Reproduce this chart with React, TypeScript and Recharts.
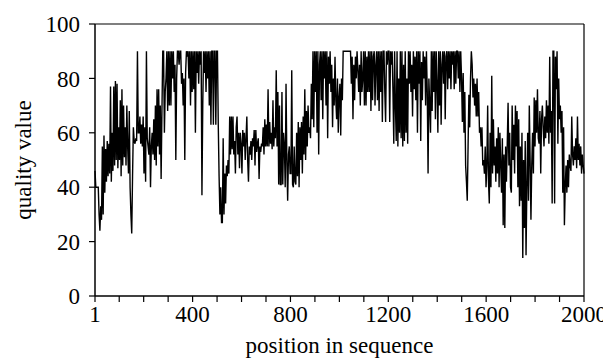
import React from "react";
import {
  LineChart,
  Line,
  XAxis,
  YAxis,
  ReferenceLine,
  Label,
} from "recharts";

// quality value, roughly 3.3 positions per value
const q0001_0400 = [
  46, 40, 40, 40, 40, 30, 24, 33, 28, 55, 30, 59,
  38, 54, 42, 57, 44, 56, 45, 77, 42, 60, 46, 77,
  48, 79, 50, 78, 47, 62, 50, 72, 44, 76, 48, 70,
  51, 62, 48, 70, 55, 45, 68, 40, 30, 23, 44, 62,
  57, 56, 58, 57, 90, 60, 60, 66, 56, 63, 55, 66,
  45, 62, 42, 90, 58, 55, 52, 62, 40, 55, 60, 52,
  65, 50, 70, 48, 76, 55, 76, 52, 70, 43, 68, 90,
  90, 60, 75, 80, 90, 68, 90, 70, 90, 70, 90, 80,
  90, 75, 85, 50, 80, 90, 90, 85, 90, 90, 78, 82,
  70, 80, 50, 82, 90, 88, 90, 80, 90, 70, 90, 75,
];

const q0400_0800 = [
  90, 76, 90, 60, 90, 82, 90, 78, 90, 85, 90, 37,
  70, 90, 82, 90, 75, 90, 80, 90, 70, 90, 63, 90,
  90, 63, 90, 90, 63, 90, 90, 63, 44, 30, 40, 27,
  27, 58, 30, 45, 34, 48, 44, 50, 45, 66, 52, 66,
  54, 66, 52, 57, 45, 62, 66, 52, 60, 47, 60, 56,
  45, 61, 55, 60, 50, 58, 66, 50, 42, 55, 52, 57,
  50, 58, 55, 61, 48, 61, 53, 56, 58, 43, 55, 53,
  56, 55, 62, 52, 65, 55, 63, 55, 76, 55, 64, 56,
  60, 54, 72, 55, 62, 58, 83, 55, 75, 41, 70, 41,
  41, 75, 41, 60, 55, 40, 78, 50, 35, 52, 55, 45,
];

const q0800_1200 = [
  45, 83, 41, 40, 55, 42, 41, 60, 44, 64, 40, 62,
  50, 64, 45, 66, 52, 76, 50, 68, 55, 70, 60, 62,
  58, 78, 65, 90, 62, 90, 75, 90, 60, 90, 52, 85,
  90, 72, 90, 65, 90, 80, 90, 70, 90, 58, 88, 78,
  90, 75, 85, 62, 80, 70, 88, 72, 65, 80, 60, 73,
  78, 59, 80, 72, 90, 90, 90, 90, 90, 90, 90, 90,
  90, 90, 78, 88, 65, 85, 72, 88, 80, 90, 83, 75,
  85, 70, 90, 75, 80, 90, 70, 90, 70, 88, 75, 90,
  75, 90, 68, 90, 72, 88, 90, 70, 85, 90, 72, 90,
  68, 90, 75, 90, 64, 90, 90, 75, 64, 90, 85, 90,
];

const q1200_1600 = [
  90, 64, 90, 85, 90, 75, 56, 90, 70, 57, 90, 55,
  80, 60, 90, 58, 90, 55, 85, 57, 90, 60, 80, 56,
  90, 78, 90, 75, 85, 66, 90, 76, 88, 72, 90, 60,
  90, 78, 90, 57, 86, 72, 90, 80, 88, 70, 90, 75,
  45, 80, 70, 60, 90, 68, 90, 75, 90, 65, 90, 78,
  60, 90, 70, 90, 63, 85, 90, 78, 90, 65, 88, 90,
  76, 90, 80, 90, 76, 90, 85, 90, 76, 90, 78, 90,
  90, 80, 90, 75, 90, 80, 64, 82, 60, 75, 48, 42,
  35, 55, 74, 62, 80, 90, 85, 73, 80, 70, 78, 66,
  80, 66, 75, 60, 62, 55, 62, 48, 50, 45, 55, 40,
];

const q1600_2000 = [
  48, 70, 42, 34, 60, 40, 81, 45, 65, 48, 55, 42,
  58, 45, 62, 40, 60, 48, 38, 58, 26, 52, 25, 55,
  42, 56, 71, 48, 60, 40, 38, 70, 50, 63, 45, 70,
  55, 68, 40, 65, 33, 55, 35, 60, 14, 50, 25, 57,
  15, 40, 60, 35, 70, 50, 28, 48, 60, 45, 73, 55,
  72, 60, 76, 58, 56, 68, 45, 65, 70, 62, 55, 66,
  58, 72, 60, 70, 56, 88, 60, 68, 34, 90, 90, 34,
  88, 76, 90, 56, 80, 65, 70, 60, 68, 38, 62, 26,
  40, 48, 38, 50, 40, 52, 48, 46, 66, 52, 48, 55,
  50, 58, 47, 66, 50, 56, 48, 55, 45, 52, 48, 45,
];

const quality = [
  ...q0001_0400,
  ...q0400_0800,
  ...q0800_1200,
  ...q1200_1600,
  ...q1600_2000,
];

const xTicks = [
  1, 100, 200, 300, 400, 500, 600, 700, 800, 900, 1000,
  1100, 1200, 1300, 1400, 1500, 1600, 1700, 1800, 1900, 2000,
];
const xLabels = [1, 400, 800, 1200, 1600, 2000];
const yTicks = [0, 20, 40, 60, 80, 100];

const data = quality.map((q, i) => ({
  pos: 1 + (i * 1999) / (quality.length - 1),
  q,
}));

const font = "'Liberation Serif', 'Times New Roman', serif";
const tickStyle = { fontSize: 23, fill: "#000", fontFamily: font };

export default function App() {
  return (
    <LineChart
      width={600}
      height={350}
      data={data}
      margin={{ top: 16, right: 24, left: 0, bottom: 0 }}
    >
      <XAxis
        dataKey="pos"
        type="number"
        domain={[1, 2000]}
        ticks={xTicks}
        interval={0}
        tickFormatter={(v: number) => (xLabels.includes(v) ? String(v) : "")}
        tick={tickStyle}
        tickSize={6}
        tickMargin={4}
        height={62}
        axisLine={{ stroke: "#000", strokeWidth: 1.5 }}
        tickLine={{ stroke: "#000", strokeWidth: 1.2 }}
      >
        <Label
          value="position in sequence"
          position="insideBottom"
          offset={5}
          style={{ fontSize: 23, fill: "#000", fontFamily: font }}
        />
      </XAxis>
      <YAxis
        type="number"
        domain={[0, 100]}
        ticks={yTicks}
        interval={0}
        width={87}
        tick={tickStyle}
        tickSize={6}
        tickMargin={9}
        axisLine={{ stroke: "#000", strokeWidth: 1.5 }}
        tickLine={{ stroke: "#000", strokeWidth: 1.2 }}
      >
        <Label
          value="quality value"
          angle={-90}
          position="insideLeft"
          offset={15}
          style={{ fontSize: 23, fill: "#000", fontFamily: font, textAnchor: "middle" }}
        />
      </YAxis>
      <ReferenceLine y={100} stroke="#000" strokeWidth={1.2} />
      <ReferenceLine x={2000} stroke="#000" strokeWidth={1.2} />
      <Line
        type="linear"
        dataKey="q"
        stroke="#000"
        strokeWidth={1.4}
        dot={false}
        isAnimationActive={false}
      />
    </LineChart>
  );
}
